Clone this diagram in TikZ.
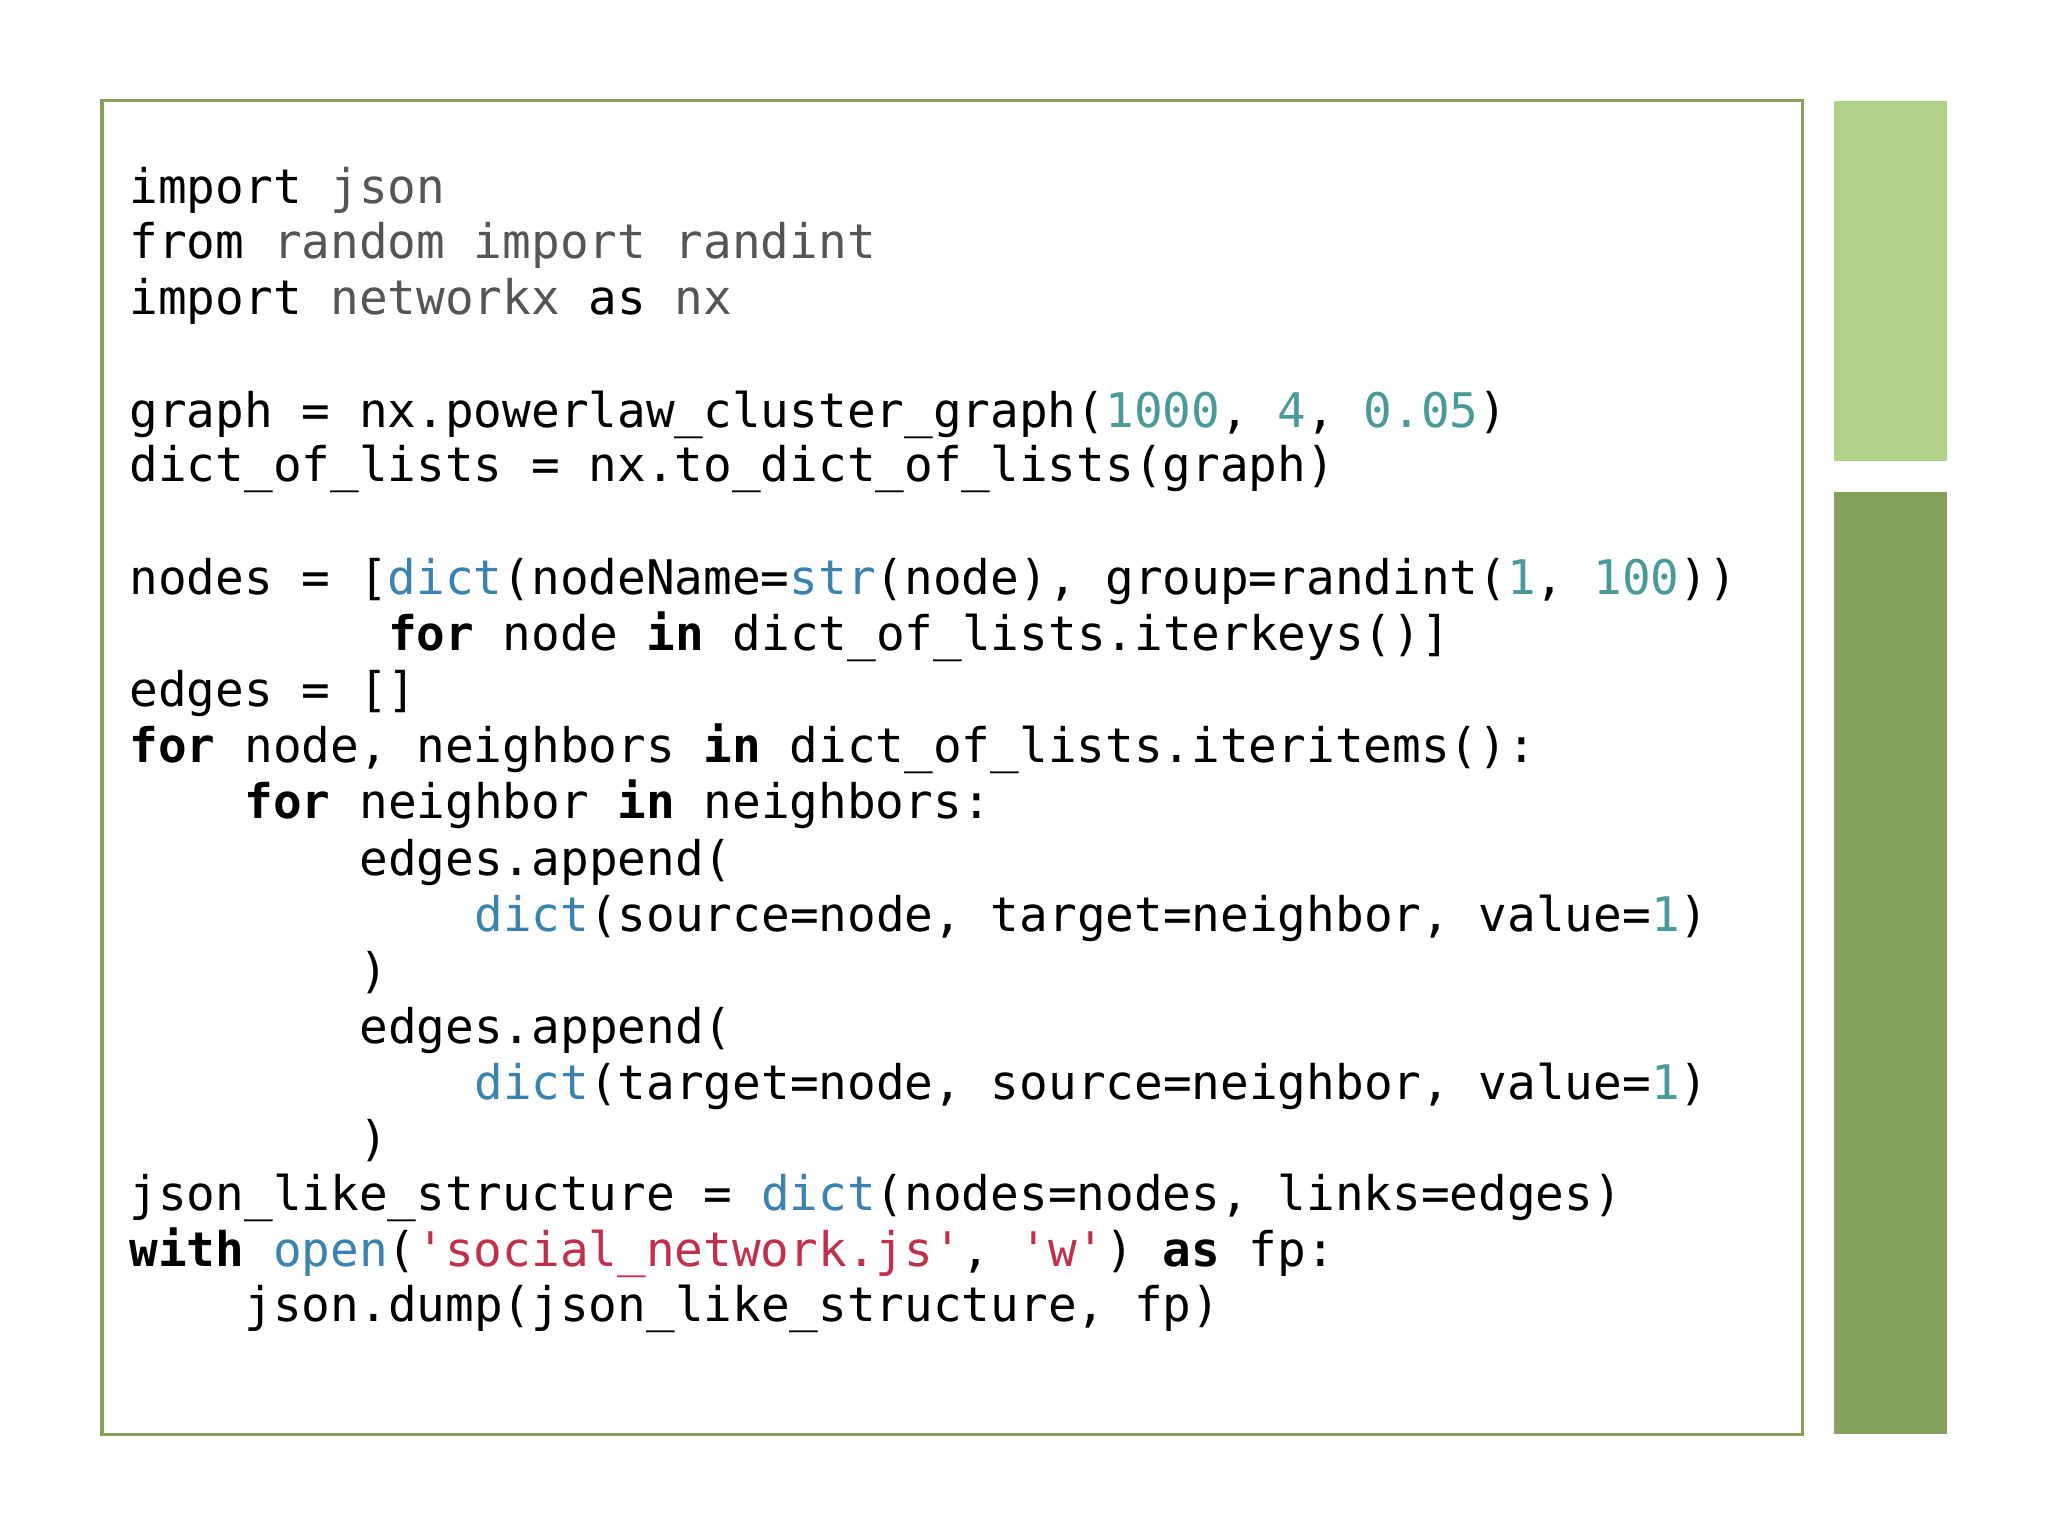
\documentclass[tikz,border=0pt]{standalone}
\usepackage{fontspec}
\setmonofont{DejaVu Sans Mono}
\definecolor{lightg}{HTML}{B1D188}
\definecolor{darkg}{HTML}{84A25D}
\definecolor{modg}{HTML}{555555}
\definecolor{numc}{HTML}{4A9A9A}
\definecolor{bic}{HTML}{3A82B0}
\definecolor{strc}{HTML}{C0304A}
\newcommand{\kw}[1]{\textbf{#1}}
\newcommand{\md}[1]{\textcolor{modg}{#1}}
\newcommand{\nm}[1]{\textcolor{numc}{#1}}
\newcommand{\bi}[1]{\textcolor{bic}{#1}}
\newcommand{\st}[1]{\textcolor{strc}{#1}}
\begin{document}
\begin{tikzpicture}[x=1pt,y=-1pt,
  codeline/.style={anchor=base west,inner sep=0pt,font=\ttfamily\fontsize{36.5}{43}\selectfont}]
\useasboundingbox (0,0) rectangle (1568,1176);
\fill[white] (0,0) rectangle (1568,1176);
\draw[darkg,line width=2.5pt] (78,77) rectangle (1380,1098);
\fill[lightg] (1404,77) rectangle (1491,353);
\fill[darkg] (1404,377) rectangle (1491,1098);
\def\ch{22}
\node[codeline] (l1) at (99,156) {import \md{json}};
\node[codeline] (l2) at (99,198) {from \md{random import randint}};
\node[codeline] (l3) at (99,241) {import \md{networkx} as \md{nx}};
\node[codeline] (l4) at (99,327) {graph = nx.powerlaw\_cluster\_graph(\nm{1000}, \nm{4}, \nm{0.05})};
\node[codeline] (l5) at (99,369) {dict\_of\_lists = nx.to\_dict\_of\_lists(graph)};
\node[codeline] (l6) at (99,455) {nodes = [\bi{dict}(nodeName=\bi{str}(node), group=randint(\nm{1}, \nm{100}))};
\node[codeline] (l7) at (99+9*\ch,498) {\kw{for} node \kw{in} dict\_of\_lists.iterkeys()]};
\node[codeline] (l8) at (99,541) {edges = []};
\node[codeline] (l9) at (99,584) {\kw{for} node, neighbors \kw{in} dict\_of\_lists.iteritems():};
\node[codeline] (l10) at (99+4*\ch,627) {\kw{for} neighbor \kw{in} neighbors:};
\node[codeline] (l11) at (99+8*\ch,670) {edges.append(};
\node[codeline] (l12) at (99+12*\ch,713) {\bi{dict}(source=node, target=neighbor, value=\nm{1})};
\node[codeline] (l13) at (99+8*\ch,756) {)};
\node[codeline] (l14) at (99+8*\ch,799) {edges.append(};
\node[codeline] (l15) at (99+12*\ch,842) {\bi{dict}(target=node, source=neighbor, value=\nm{1})};
\node[codeline] (l16) at (99+8*\ch,885) {)};
\node[codeline] (l17) at (99,927) {json\_like\_structure = \bi{dict}(nodes=nodes, links=edges)};
\node[codeline] (l18) at (99,970) {\kw{with} \bi{open}(\st{'social\_network.js'}, \st{'w'}) \kw{as} fp:};
\node[codeline] (l19) at (99+4*\ch,1012) {json.dump(json\_like\_structure, fp)};
\end{tikzpicture}
\end{document}
